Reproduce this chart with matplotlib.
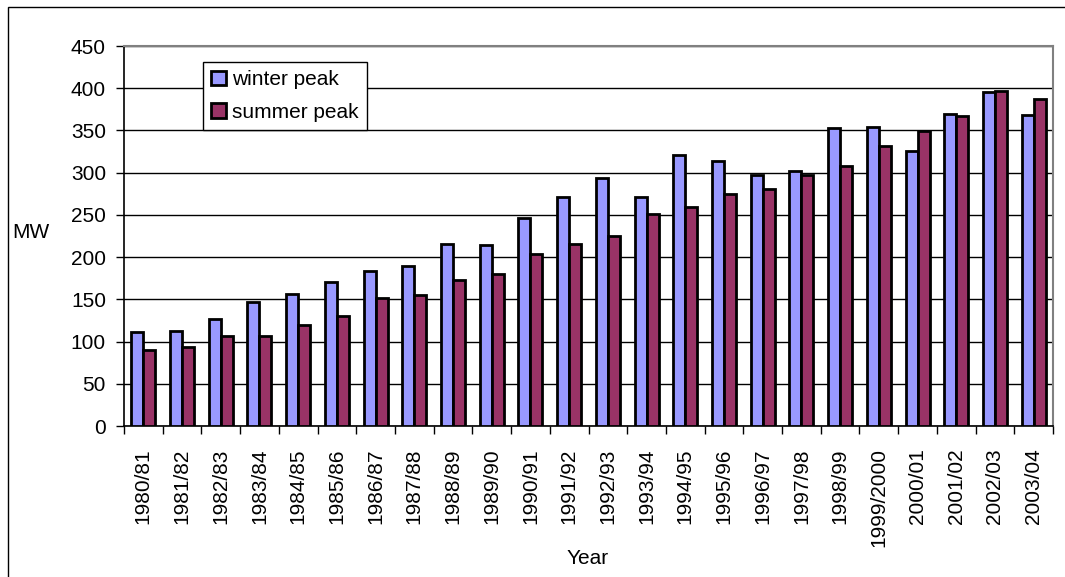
import numpy as np
from matplotlib import pyplot as plt
from matplotlib.patches import Rectangle

years = ["1980/81", "1981/82", "1982/83", "1983/84", "1984/85", "1985/86",
         "1986/87", "1987/88", "1988/89", "1989/90", "1990/91", "1991/92",
         "1992/93", "1993/94", "1994/95", "1995/96", "1996/97", "1997/98",
         "1998/99", "1999/2000", "2000/01", "2001/02", "2002/03", "2003/04"]
winter = [111, 112, 127, 147, 156, 170, 184, 189, 215, 214, 246, 271,
          294, 271, 321, 314, 297, 302, 353, 354, 326, 369, 395, 368]
summer = [90, 94, 106, 107, 120, 130, 151, 155, 173, 180, 204, 216,
          225, 251, 259, 275, 281, 297, 308, 331, 349, 367, 397, 387]

plt.rcParams['font.family'] = ['Liberation Sans', 'DejaVu Sans']

fig = plt.figure(figsize=(10.65, 5.77), dpi=100)
ax = fig.add_axes([124/1065, 1-426/577, 929/1065, 380/577])

x = np.arange(len(years))
w = 0.31
ax.bar(x - w/2, winter, w, color='#9999FF', edgecolor='black', linewidth=2,
       label='winter peak', zorder=3)
ax.bar(x + w/2, summer, w, color='#993366', edgecolor='black', linewidth=2,
       label='summer peak', zorder=3)

ax.set_xlim(-0.5, len(years) - 0.5)
ax.set_ylim(0, 450)
ax.set_yticks(range(0, 451, 50))
ax.yaxis.grid(True, color='black', linewidth=1)
ax.set_axisbelow(True)

# ticks at category boundaries, labels at centres
ax.set_xticks(np.arange(-0.5, len(years), 1))
ax.set_xticklabels([])
ax.set_xticks(x, minor=True)
ax.set_xticklabels(years, minor=True, rotation=90, fontsize=15)
ax.tick_params(axis='x', which='minor', length=0, pad=16)
ax.tick_params(axis='x', which='major', length=6, direction='out', width=1)
ax.tick_params(axis='y', length=6, direction='out', width=1, labelsize=15, pad=7)

for s in ['left', 'bottom']:
    ax.spines[s].set_color('black')
    ax.spines[s].set_linewidth(1.2)
for s in ['top', 'right']:
    ax.spines[s].set_color('#808080')
    ax.spines[s].set_linewidth(1.5)

leg = ax.legend(loc='upper left', bbox_to_anchor=(0.085, 0.958), fontsize=15,
                frameon=True, fancybox=False, edgecolor='black', framealpha=1,
                handlelength=0.7, handleheight=0.7, handletextpad=0.3,
                labelspacing=0.65, borderpad=0.4, borderaxespad=0)
leg.get_frame().set_linewidth(1)

fig.text(12/1065, 1-233/577, 'MW', fontsize=15, ha='left', va='center')
fig.text(588/1065, 1-558/577, 'Year', fontsize=15, ha='center', va='center')

# chart border (extends past the right and bottom edges)
fig.patches.append(Rectangle((8/1065, -0.1), 1.2, 1 - 7/577 + 0.1,
                             transform=fig.transFigure, fill=False,
                             edgecolor='black', linewidth=1))

fig.savefig("out.png", dpi=100)
